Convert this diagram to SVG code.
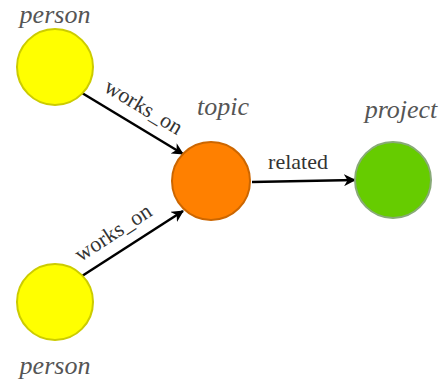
<svg xmlns="http://www.w3.org/2000/svg" width="448" height="385" viewBox="0 0 448 385">
<style>
.lbl{font-family:"Liberation Serif","Times New Roman",serif;font-style:italic;font-size:26px;fill:#555;text-anchor:middle}
.el{font-family:"Liberation Serif","Times New Roman",serif;font-size:22px;fill:#333;text-anchor:middle}
.edge{stroke:#000;stroke-width:2.5;fill:none;marker-end:url(#arr)}
</style>
<defs>
<marker id="arr" markerWidth="12" markerHeight="12" refX="11" refY="6" orient="auto" markerUnits="userSpaceOnUse" viewBox="0 0 12 12">
<path d="M0,0 L12,6 L0,12 L3.5,6 Z" fill="#000"/>
</marker>
</defs>
<rect width="448" height="385" fill="#fff"/>
<g id="edges">
<g id="e1"><line class="edge" x1="82" y1="93" x2="183" y2="154"/><text class="el" transform="translate(140,113) rotate(31)">works_on</text></g>
<g id="e2"><line class="edge" x1="82" y1="276" x2="183" y2="211"/><text class="el" transform="translate(117,238.5) rotate(-33)">works_on</text></g>
<g id="e3"><line class="edge" x1="252" y1="182" x2="355" y2="180"/><text class="el" x="298" y="169">related</text></g>
</g>
<g id="person1"><circle cx="55" cy="67" r="38" fill="#ffff00" stroke="#cccc00" stroke-width="2"/><text class="lbl" x="55" y="23">person</text></g>
<g id="person2"><circle cx="55" cy="302" r="38" fill="#ffff00" stroke="#cccc00" stroke-width="2"/><text class="lbl" x="55" y="374">person</text></g>
<g id="topic"><circle cx="211" cy="181" r="39" fill="#ff8000" stroke="#cc6600" stroke-width="2"/><text class="lbl" x="223" y="115">topic</text></g>
<g id="project"><circle cx="393" cy="180" r="38" fill="#66cc00" stroke="#88aa77" stroke-width="2"/><text class="lbl" x="401" y="118">project</text></g>
</svg>
